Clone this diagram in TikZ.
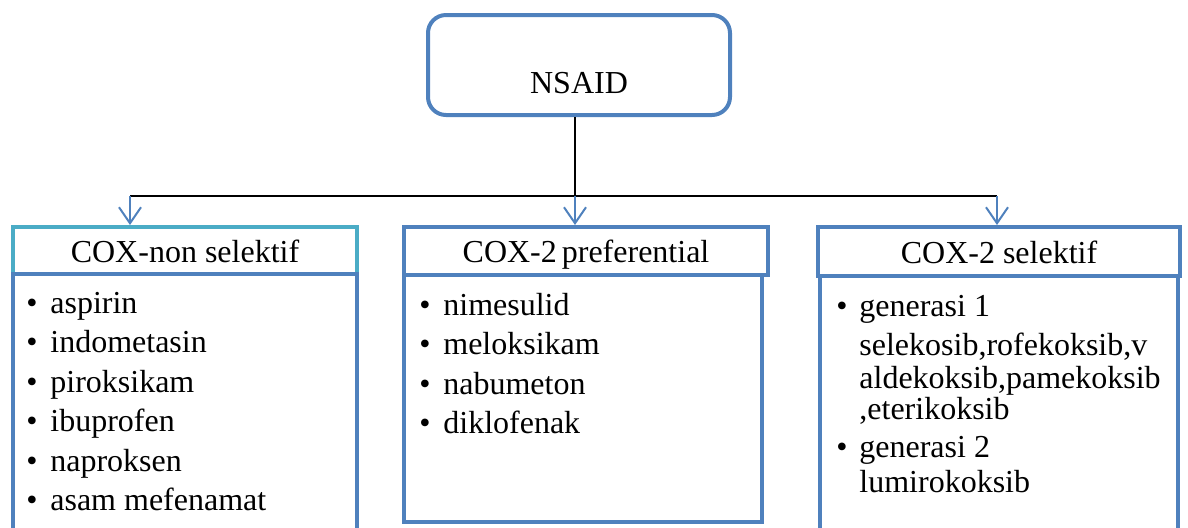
\documentclass[tikz,border=0pt]{standalone}
\usepackage{fontspec}
\setmainfont{Liberation Serif}
\usetikzlibrary{arrows.meta,positioning}
\definecolor{boxblue}{RGB}{79,129,189}
\definecolor{boxteal}{RGB}{75,172,198}

\begin{document}
\begin{tikzpicture}[
  x=0.5pt, y=-0.5pt,
  txt/.style={font=\fontsize{16}{19}\selectfont},
  topbox/.style={rectangle, draw=boxblue, line width=2pt, rounded corners=9pt,
                 minimum width=151pt, minimum height=50pt, inner sep=0pt,
                 text height=39pt, text depth=11pt, txt},
  hdr/.style={rectangle, draw=boxblue, line width=2pt, inner sep=0pt,
              text height=12pt, text depth=0.5pt, txt},
  body/.style={rectangle, draw=boxblue, line width=2pt, inner sep=0pt},
  item/.style={inner sep=0pt, text height=13.5pt, text depth=5.85pt, txt},
  conn/.style={draw=black, line width=0.9pt},
  arr/.style={draw=boxblue, line width=1pt,
              -{Straight Barb[length=8pt,width=11pt]}}
]
\path[use as bounding box] (0,0) rectangle (1188,527);
\clip (0,0) rectangle (1188,527);

\node[topbox] (nsaid) at (579,65) {NSAID};

% group headers
\node[hdr, draw=boxteal, minimum width=172pt, minimum height=23.5pt]
  (hdrA) at (185,250.5) {COX-non selektif};
\node[hdr, minimum width=182pt, minimum height=24pt]
  (hdrB) at (586,251) {COX-2\hspace{-1.5pt} preferential};
\node[hdr, minimum width=181pt, minimum height=24.5pt]
  (hdrC) at (999,251.5) {COX-2 selektif};

% list boxes
\node[body, minimum width=172pt, minimum height=143pt] (bodyA) at (185,417) {};
\node[body, minimum width=179pt, minimum height=123.5pt] (bodyB) at (583,398.5) {};
\node[body, minimum width=179pt, minimum height=142pt] (bodyC) at (999,418) {};

% COX-non selektif
\node[item, anchor=base west] (a1) at (26,313)
  {\makebox[12pt][l]{\textbullet}aspirin};
\node[item, below=0pt of a1.south west, anchor=north west] (a2)
  {\makebox[12pt][l]{\textbullet}indometasin};
\node[item, below=0pt of a2.south west, anchor=north west] (a3)
  {\makebox[12pt][l]{\textbullet}piroksikam};
\node[item, below=0pt of a3.south west, anchor=north west] (a4)
  {\makebox[12pt][l]{\textbullet}ibuprofen};
\node[item, below=0pt of a4.south west, anchor=north west] (a5)
  {\makebox[12pt][l]{\textbullet}naproksen};
\node[item, below=0pt of a5.south west, anchor=north west] (a6)
  {\makebox[12pt][l]{\textbullet}asam mefenamat};

% COX-2 preferential
\node[item, anchor=base west] (b1) at (419,315)
  {\makebox[12pt][l]{\textbullet}nimesulid};
\node[item, below=0pt of b1.south west, anchor=north west] (b2)
  {\makebox[12pt][l]{\textbullet}meloksikam};
\node[item, below=0pt of b2.south west, anchor=north west] (b3)
  {\makebox[12pt][l]{\textbullet}nabumeton};
\node[item, below=0pt of b3.south west, anchor=north west] (b4)
  {\makebox[12pt][l]{\textbullet}diklofenak};

% COX-2 selektif
\node[item, anchor=base west] (c1) at (836,316)
  {\makebox[11.5pt][l]{\textbullet}generasi 1};
\node[item, anchor=base west] (c1a) at (859,355) {selekosib,rofekoksib,v};
\node[item, anchor=base west] (c1b) at (859,388) {aldekoksib,pamekoksib};
\node[item, anchor=base west] (c1c) at (859,419) {,eterikoksib};
\node[item, anchor=base west] (c2) at (836,457)
  {\makebox[11.5pt][l]{\textbullet}generasi 2};
\node[item, anchor=base west] (c2a) at (859,492) {lumirokoksib};

% tree lines
\coordinate (jA) at (130,196);
\coordinate (jB) at (575,196);
\coordinate (jC) at (997,196);
\draw[conn] (nsaid.south -| jB) -- (jB);
\draw[conn] (jA) -- (jC);
\draw[arr] (jA) -- (jA |- hdrA.north);
\draw[arr] (jB) -- (jB |- hdrB.north);
\draw[arr] (jC) -- (jC |- hdrC.north);
\end{tikzpicture}
\end{document}
